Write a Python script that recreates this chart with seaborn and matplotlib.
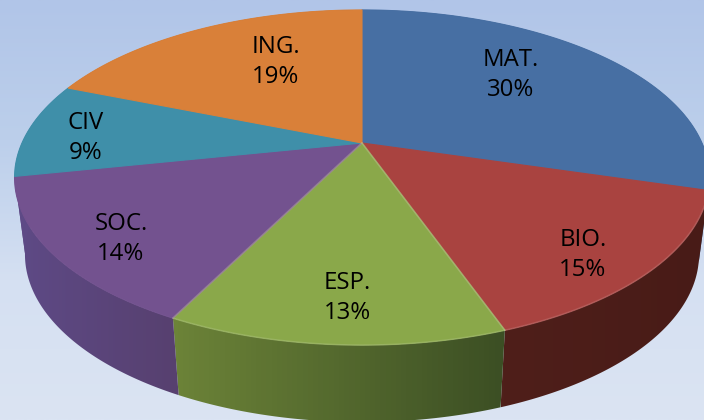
import numpy as np
import seaborn as sns
from matplotlib import pyplot as plt
from matplotlib.patches import Polygon

subjects = ["MAT.", "BIO.", "ESP.", "SOC.", "CIV", "ING."]
shares = [29.5, 15.0, 13.0, 14.3, 9.2, 19.0]

top_colors = ["#476fa3", "#a94340", "#8aa84a", "#73528f", "#3f8fa9", "#d98039"]
wall_left = ["#2f4a70", "#4f1f1a", "#6c8338", "#5e4a86", "#5e4a86", "#8f5222"]
wall_right = ["#2f4a70", "#481b17", "#3c4f24", "#57406f", "#5e4a86", "#8f5222"]
label_xy = [(511, 75), (583, 255), (347, 298), (121, 239), (86, 138), (276, 62)]

sns.set_theme(style="white")
plt.rcParams["font.family"] = ["Open Sans", "DejaVu Sans"]

W, H = 704, 420
fig, ax = plt.subplots(figsize=(W / 100, H / 100), dpi=100)
fig.subplots_adjust(0, 0, 1, 1)
ax.set_axis_off()


def to_rgb_image(colors, n, vertical=False):
    img = np.array(sns.blend_palette(colors, n))[None, :, :]
    return img.transpose(1, 0, 2) if vertical else img


# background
ax.imshow(to_rgb_image(["#b1c5e8", "#bccfeb", "#d5e0f2", "#dbe4f3"], 256, vertical=True),
          extent=(0, W, H, 0), aspect="auto", zorder=0)


# perspective view of the unit circle, in pixels
def project(theta, depth=0.0):
    x, y = np.sin(theta), np.cos(theta)
    den = 1 + 0.206 * y
    px = 362 + 340 * x / den
    py = (143 - 131 * y) / den
    if depth:
        px = 362 + (px - 362) * 0.97
        py = py + depth
    return px, py


edges = np.cumsum([0] + shares) / sum(shares) * 2 * np.pi
depth = 77

# walls first, the top covers whatever is behind
for i in range(len(subjects)):
    t = np.linspace(edges[i], edges[i + 1], 120)
    x0, y0 = project(t)
    x1, y1 = project(t, depth)
    pts = np.r_[np.c_[x0, y0], np.c_[x1, y1][::-1]]
    poly = Polygon(pts, closed=True, fc="none", ec="none", transform=ax.transData)
    ax.add_patch(poly)
    im = ax.imshow(to_rgb_image([wall_left[i], wall_right[i]], 64),
                   extent=(pts[:, 0].min(), pts[:, 0].max(), H, 0),
                   aspect="auto", zorder=1)
    im.set_clip_path(poly)

# top of the pie
for i, color in enumerate(top_colors):
    t = np.linspace(edges[i], edges[i + 1], 120)
    x0, y0 = project(t)
    pts = np.r_[[(362, 143)], np.c_[x0, y0]]
    ax.add_patch(Polygon(pts, closed=True, fc=color, ec=color, lw=0.8, zorder=2))

# lighter rim on the front of the top
for i in [1, 2]:
    t = np.linspace(edges[i], edges[i + 1], 120)
    x0, y0 = project(t)
    ax.plot(x0, y0, color="white", alpha=0.12, lw=1.2, zorder=3)

# pale seam between the green slice and its neighbours
for e in [edges[2], edges[3]]:
    xe, ye = project(np.array([e]))
    ax.plot([362, xe[0]], [143, ye[0]], color="#c9c7a0", alpha=0.4, lw=1.2, zorder=3)

for name, share, (lx, ly) in zip(subjects, shares, label_xy):
    ax.text(lx, ly, f"{name}\n{share:.0f}%", ha="center", va="center",
            fontsize=17.3, linespacing=1.33, color="black", zorder=4)

ax.set_xlim(0, W)
ax.set_ylim(H, 0)
fig.savefig("out.png", dpi=100)
